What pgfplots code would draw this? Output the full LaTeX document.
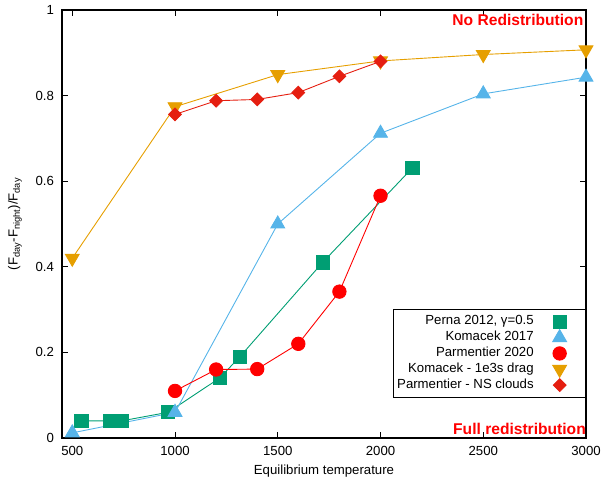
\documentclass[border=0pt]{standalone}
\usepackage{pgfplots}
\pgfplotsset{compat=1.18}
\usepackage{fontspec}
\setmainfont{Liberation Sans}
\definecolor{cgreen}{HTML}{009E73}
\definecolor{cblue}{HTML}{56B4E9}
\definecolor{corange}{HTML}{E69F00}
\definecolor{cdia}{HTML}{E51E10}
\begin{document}
\begin{tikzpicture}
\begin{axis}[
  scale only axis,
  width=524bp, height=428bp,
  xmin=450, xmax=3000, ymin=0, ymax=1,
  xtick={500,1000,1500,2000,2500,3000},
  ytick={0,0.2,0.4,0.6,0.8,1},
  yticklabels={0,0.2,0.4,0.6,0.8,1},
  xticklabels={500,1000,1500,2000,2500,3000},
  tick align=inside,
  major tick length=6bp,
  tick style={black, line width=0.7pt},
  axis line style={line width=1.1pt},
  font=\fontsize{13.2bp}{15.8bp}\selectfont,
  /pgf/number format/assume math mode=true,
  xticklabel style={yshift=-4.3bp},
  yticklabel style={xshift=-4.5bp},
  xlabel={Equilibrium temperature},
  ylabel={(F\textsubscript{day}-F\textsubscript{night})/F\textsubscript{day}},
  xlabel style={at={(axis description cs:0.5,-0.0771)}, anchor=center},
  ylabel style={at={(axis description cs:-0.0897,0.5)}, anchor=center},
  legend style={at={(1,0.3007)}, anchor=north east, draw=black, line width=0.7pt,
    inner xsep=3.7bp, inner ysep=4.2bp, row sep=0pt, column sep=0pt,
    nodes={inner sep=0pt, text height=10.8bp, text depth=5bp},
    font=\fontsize{13.2bp}{15.8bp}\selectfont},
  legend cell align=right,
  legend plot pos=right,
  legend image code/.code={\path[draw=none,fill=none] (0bp,0bp) -- (48.3bp,0bp); \draw plot coordinates {(26bp,0bp)};},
]
\addplot[cgreen, line width=0.9pt, mark=square*, mark size=6.6bp, mark options={solid}] coordinates {
(545,0.04) (683,0.04) (740,0.04) (966,0.06) (1217,0.14) (1316,0.19) (1718,0.41) (2155,0.631)};
\addlegendentry{Perna 2012, γ=0.5}
\addplot[cblue, line width=0.9pt, mark=triangle*, mark size=8bp] coordinates {
(500,0.012) (1000,0.06) (1500,0.50) (2000,0.712) (2500,0.804) (3000,0.843)};
\addlegendentry{Komacek 2017}
\addplot[red, line width=0.9pt, mark=*, mark size=6.7bp] coordinates {
(1000,0.11) (1200,0.16) (1400,0.161) (1600,0.22) (1800,0.342) (2000,0.566)};
\addlegendentry{Parmentier 2020}
\addplot[corange, line width=0.9pt, mark=triangle*, mark size=8bp, mark options={rotate=180}] coordinates {
(500,0.42) (1000,0.774) (1500,0.849) (2000,0.881) (2500,0.896) (3000,0.907)};
\addlegendentry{Komacek - 1e3s drag}
\addplot[cdia, line width=0.9pt, mark=square*, mark size=4.5bp, mark options={rotate=45}] coordinates {
(1000,0.756) (1200,0.788) (1400,0.791) (1600,0.807) (1800,0.845) (2000,0.880)};
\addlegendentry{Parmentier - NS clouds}
\node[anchor=base east, text=red, font=\bfseries\fontsize{15.6bp}{18bp}\selectfont, inner sep=0pt,
  xshift=-2.5bp, yshift=-16bp] at (axis description cs:1,1) {No Redistribution};
\node[anchor=base east, text=red, font=\bfseries\fontsize{15.6bp}{18bp}\selectfont, inner sep=0pt,
  yshift=4bp] at (axis description cs:1,0) {Full redistribution};
\end{axis}
\pgfresetboundingbox
\path[use as bounding box] ([shift={(-62bp,-46bp)}]current axis.south west) rectangle ([shift={(16bp,10bp)}]current axis.north east);
\end{tikzpicture}
\end{document}
